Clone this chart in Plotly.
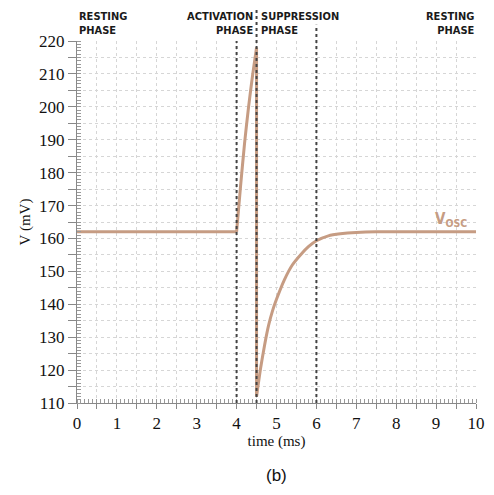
import plotly.graph_objects as go

# data
rest_t = [0.0, 2.0, 4.0]
rest_v = [162, 162, 162]
act_t = [4.0, 4.1, 4.2, 4.3, 4.4, 4.5]
act_v = [162, 176, 189, 200, 209.5, 218]
sup_t = [4.5, 4.6, 4.7, 4.8, 4.9, 5.0, 5.2, 5.4, 5.6, 5.8, 6.0, 6.3, 6.6, 7.0, 7.5, 8.0, 9.0, 10.0]
sup_v = [112, 120.5, 127.5, 133.5, 138, 141.5, 147.5, 152, 155, 157.5, 159.3, 160.8, 161.4, 161.8, 162, 162, 162, 162]
phase_bounds = [4.0, 4.5, 6.0]
phase_labels = ["RESTING<br>PHASE", "ACTIVATION<br>PHASE", "SUPPRESSION<br>PHASE", "RESTING<br>PHASE"]
x_ticks = [i * 0.5 for i in range(21)]
x_ticktext = [str(int(v)) if v == int(v) else "" for v in x_ticks]
y_ticks = [110 + 5 * i for i in range(23)]
y_ticktext = [str(v) if v % 10 == 0 else "" for v in y_ticks]

LINE_C = "#c69c83"
SERIF = "Times New Roman, Liberation Serif, DejaVu Serif, serif"
COND = "DejaVu Sans Condensed"

fig = go.Figure()
line_style = dict(color=LINE_C, width=3, shape="spline", smoothing=0.5)
fig.add_trace(go.Scatter(x=rest_t, y=rest_v, mode="lines", line=line_style, showlegend=False, hoverinfo="skip"))
fig.add_trace(go.Scatter(x=act_t, y=act_v, mode="lines", line=line_style, showlegend=False, hoverinfo="skip"))
fig.add_trace(go.Scatter(x=[act_t[-1], sup_t[0]], y=[act_v[-1], sup_v[0]], mode="lines",
                         line=dict(color=LINE_C, width=3), showlegend=False, hoverinfo="skip"))
fig.add_trace(go.Scatter(x=sup_t, y=sup_v, mode="lines", line=line_style, showlegend=False, hoverinfo="skip"))

# phase boundary lines
tops = [1.0, 1.095, 1.045]
for xb, top in zip(phase_bounds, tops):
    fig.add_shape(type="line", xref="x", yref="paper", x0=xb, x1=xb, y0=0, y1=top,
                  line=dict(color="#444444", width=2, dash="dot"), layer="above")

# phase headers
hdr_font = dict(family=COND, size=11, color="#1a1a1a")
def hdr(x, txt, anchor, dx):
    fig.add_annotation(x=x, y=1.0, xref="x", yref="paper", text="<b>" + txt + "</b>", showarrow=False,
                       xanchor=anchor, yanchor="bottom", align=anchor, yshift=2, xshift=dx, font=hdr_font)
hdr(0.0, phase_labels[0], "left", 0)
hdr(4.5, phase_labels[1], "right", -2)
hdr(4.5, phase_labels[2], "left", 2)
hdr(10.0, phase_labels[3], "right", 1)

# V_osc label
fig.add_annotation(x=9.82, y=162, xref="x", yref="y", text="<b>V<sub>OSC</sub></b>", showarrow=False,
                   xanchor="right", yanchor="bottom", yshift=1,
                   font=dict(family=COND, size=15, color=LINE_C))

# (b) caption
fig.add_annotation(x=0.5, y=-0.2, xref="paper", yref="paper", text="(b)", showarrow=False,
                   xanchor="center", yanchor="middle",
                   font=dict(family="Liberation Sans, Arial, sans-serif", size=17, color="#111111"))

fig.update_layout(
    width=478, height=479,
    margin=dict(l=69, r=10, t=33, b=84),
    paper_bgcolor="white", plot_bgcolor="white",
    font=dict(family=SERIF),
    xaxis=dict(range=[0, 10], tickvals=x_ticks, ticktext=x_ticktext,
               showgrid=True, gridcolor="#d6d6d6", griddash="dot", gridwidth=1,
               ticks="outside", ticklen=5, tickcolor="#888888",
               showline=True, linecolor="#888888", linewidth=1,
               minor=dict(dtick=0.1, ticks="inside", ticklen=4, tickcolor="#999999", showgrid=False),
               tickfont=dict(family=SERIF, size=17, color="#111111"),
               title=dict(text="time (ms)", font=dict(family=SERIF, size=15, color="#111111"), standoff=2),
               zeroline=False, automargin=False),
    yaxis=dict(range=[110, 220], tickvals=y_ticks, ticktext=y_ticktext,
               showgrid=True, gridcolor="#d6d6d6", griddash="dot", gridwidth=1,
               ticks="outside", ticklen=8, tickcolor="#888888",
               showline=True, linecolor="#888888", linewidth=1,
               minor=dict(dtick=1, ticks="inside", ticklen=4, tickcolor="#999999", showgrid=False),
               tickfont=dict(family=SERIF, size=17, color="#111111"),
               title=dict(text="V (mV)", font=dict(family=SERIF, size=15, color="#111111"), standoff=4),
               zeroline=False, automargin=False),
)

fig.write_html("out.html")
